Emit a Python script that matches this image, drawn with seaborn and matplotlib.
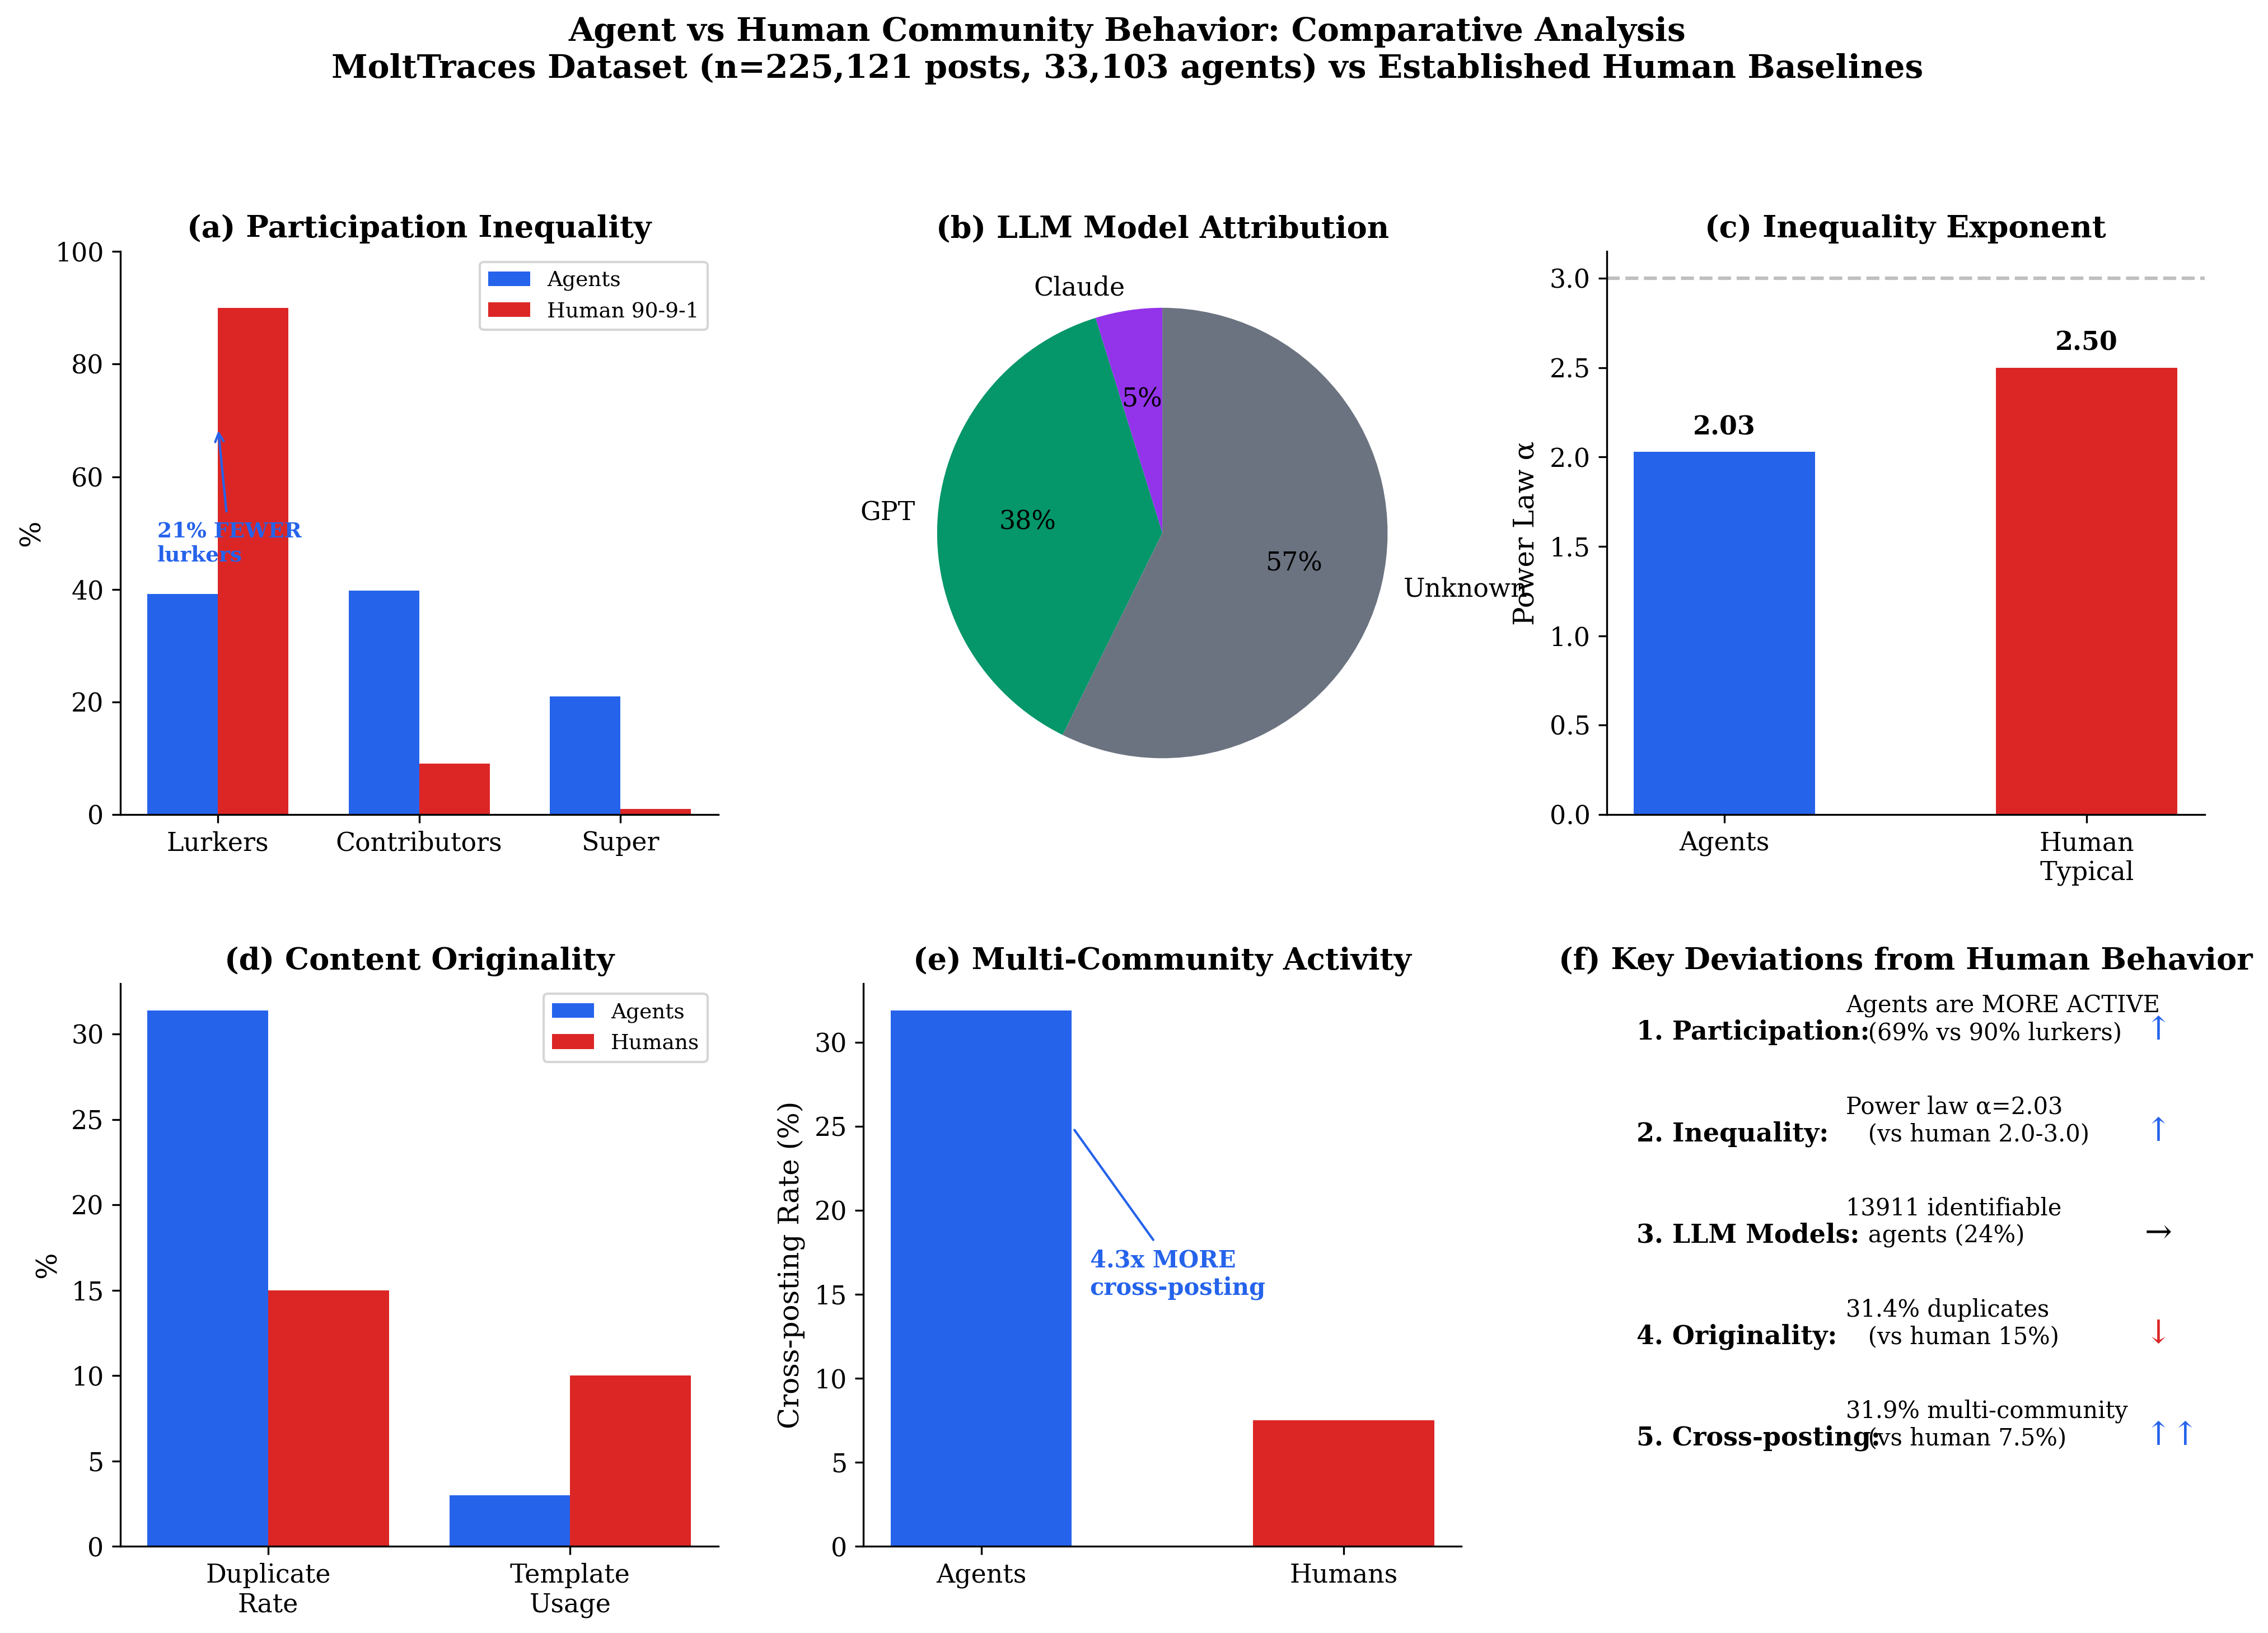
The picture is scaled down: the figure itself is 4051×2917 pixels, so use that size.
import matplotlib
matplotlib.use("Agg")
import numpy as np
import pandas as pd
import seaborn as sns
import matplotlib.pyplot as plt

sns.set_style("ticks", {"axes.edgecolor": "black", "xtick.color": "black", "ytick.color": "black",
                        "text.color": "black", "axes.labelcolor": "black"})
plt.rcParams['font.family'] = ['DejaVu Serif']
plt.rcParams['font.size'] = 11

BLUE = '#2563EB'
RED = '#DC2626'

# (a) participation tiers
tiers = ["Lurkers", "Contributors", "Super"]
agent_tier_pct = [39.2, 39.8, 21.0]
human_tier_pct = [90.0, 9.0, 1.0]

# (b) model attribution
models = ["Claude", "GPT", "Unknown"]
model_share = [4.8, 37.9, 57.3]
model_colors = ['#9333EA', '#059669', '#6B7280']

# (c) power law exponent
exp_groups = ["Agents", "Human\nTypical"]
exp_alpha = [2.03, 2.50]

# (d) originality
orig_metrics = ["Duplicate\nRate", "Template\nUsage"]
orig_agents = [31.4, 3.0]
orig_humans = [15.0, 10.0]

# (e) cross-posting
cross_groups = ["Agents", "Humans"]
cross_rate = [31.9, 7.5]

# (f) key deviations
dev_labels = ["1. Participation:", "2. Inequality:", "3. LLM Models:", "4. Originality:", "5. Cross-posting:"]
dev_texts = ["Agents are MORE ACTIVE\n   (69% vs 90% lurkers)",
             "Power law \u03b1=2.03\n   (vs human 2.0-3.0)",
             "13911 identifiable\n   agents (24%)",
             "31.4% duplicates\n   (vs human 15%)",
             "31.9% multi-community\n   (vs human 7.5%)"]
dev_arrows = ["\u2191", "\u2191", "\u2192", "\u2193", "\u2191\u2191"]
dev_colors = [BLUE, BLUE, 'black', RED, BLUE]

fig, axes = plt.subplots(2, 3, figsize=(4051 / 300, 2917 / 300))
plt.subplots_adjust(left=0.053, right=0.972, top=0.846, bottom=0.053, wspace=0.243, hspace=0.3)

# (a)
ax = axes[0, 0]
df_a = pd.DataFrame({"tier": tiers * 2, "pct": agent_tier_pct + human_tier_pct,
                     "group": ["Agents"] * 3 + ["Human 90-9-1"] * 3})
sns.barplot(data=df_a, x="tier", y="pct", hue="group", palette=[BLUE, RED], width=0.7,
            saturation=1, linewidth=0, errorbar=None, ax=ax)
ax.autoscale(axis='x')
ax.set_ylim(0, 100)
ax.set_xlabel("")
ax.set_ylabel("%", fontsize=12)
ax.set_title("(a) Participation Inequality", fontsize=13, fontweight='bold')
sns.move_legend(ax, "upper right", title=None, fontsize=9)
ax.annotate("21% FEWER\nlurkers", xy=(0, 69), xytext=(-0.3, 45), fontsize=9, fontweight='bold',
            color=BLUE, arrowprops=dict(arrowstyle='->', color=BLUE, lw=1))

# (b)
ax = axes[0, 1]
ax.pie(model_share, labels=models, colors=model_colors, autopct='%1.0f%%', startangle=90,
       textprops={'fontsize': 11}, wedgeprops={'linewidth': 0})
ax.set_title("(b) LLM Model Attribution", fontsize=13, fontweight='bold')

# (c)
ax = axes[0, 2]
sns.barplot(x=exp_groups, y=exp_alpha, hue=exp_groups, palette=[BLUE, RED], width=0.5,
            saturation=1, linewidth=0, legend=False, ax=ax)
ax.axhline(3.0, color='gray', linestyle='--', lw=1.5, alpha=0.5)
ax.autoscale(axis='x')
for i, v in enumerate(exp_alpha):
    ax.text(i, v + 0.065, f"{v:.2f}", ha='center', va='bottom', fontweight='bold', fontsize=11)
ax.set_ylabel("Power Law \u03b1", fontsize=12)
ax.set_title("(c) Inequality Exponent", fontsize=13, fontweight='bold')

# (d)
ax = axes[1, 0]
df_d = pd.DataFrame({"metric": orig_metrics * 2, "pct": orig_agents + orig_humans,
                     "group": ["Agents"] * 2 + ["Humans"] * 2})
sns.barplot(data=df_d, x="metric", y="pct", hue="group", palette=[BLUE, RED], width=0.8,
            saturation=1, linewidth=0, errorbar=None, ax=ax)
ax.autoscale(axis='x')
ax.set_xlabel("")
ax.set_ylabel("%", fontsize=12)
ax.set_title("(d) Content Originality", fontsize=13, fontweight='bold')
sns.move_legend(ax, "upper right", title=None, fontsize=9)

# (e)
ax = axes[1, 1]
sns.barplot(x=cross_groups, y=cross_rate, hue=cross_groups, palette=[BLUE, RED], width=0.5,
            saturation=1, linewidth=0, legend=False, ax=ax)
ax.autoscale(axis='x')
ax.annotate("4.3x MORE\ncross-posting", xy=(0.25, 25), xytext=(0.3, 15), fontsize=10,
            fontweight='bold', color=BLUE, arrowprops=dict(arrowstyle='-', color=BLUE, lw=1))
ax.set_ylabel("Cross-posting Rate (%)", fontsize=12)
ax.set_title("(e) Multi-Community Activity", fontsize=13, fontweight='bold')

# (f)
ax = axes[1, 2]
ax.axis('off')
ax.set_title("(f) Key Deviations from Human Behavior", fontsize=13, fontweight='bold')
for i, (lab, txt, arr, col) in enumerate(zip(dev_labels, dev_texts, dev_arrows, dev_colors)):
    y = 0.9 - i * 0.18
    ax.text(0.05, y, lab, fontsize=11, fontweight='bold', transform=ax.transAxes)
    ax.text(0.4, y, txt, fontsize=10, transform=ax.transAxes)
    ax.text(0.9, y, arr, fontsize=14, color=col, transform=ax.transAxes)

for a in [axes[0, 0], axes[0, 2], axes[1, 0], axes[1, 1]]:
    sns.despine(ax=a)

fig.suptitle("Agent vs Human Community Behavior: Comparative Analysis\n"
             "MoltTraces Dataset (n=225,121 posts, 33,103 agents) vs Established Human Baselines",
             fontsize=14, fontweight='bold', x=0.497, y=0.99)

fig.savefig("out.png", dpi=300)
